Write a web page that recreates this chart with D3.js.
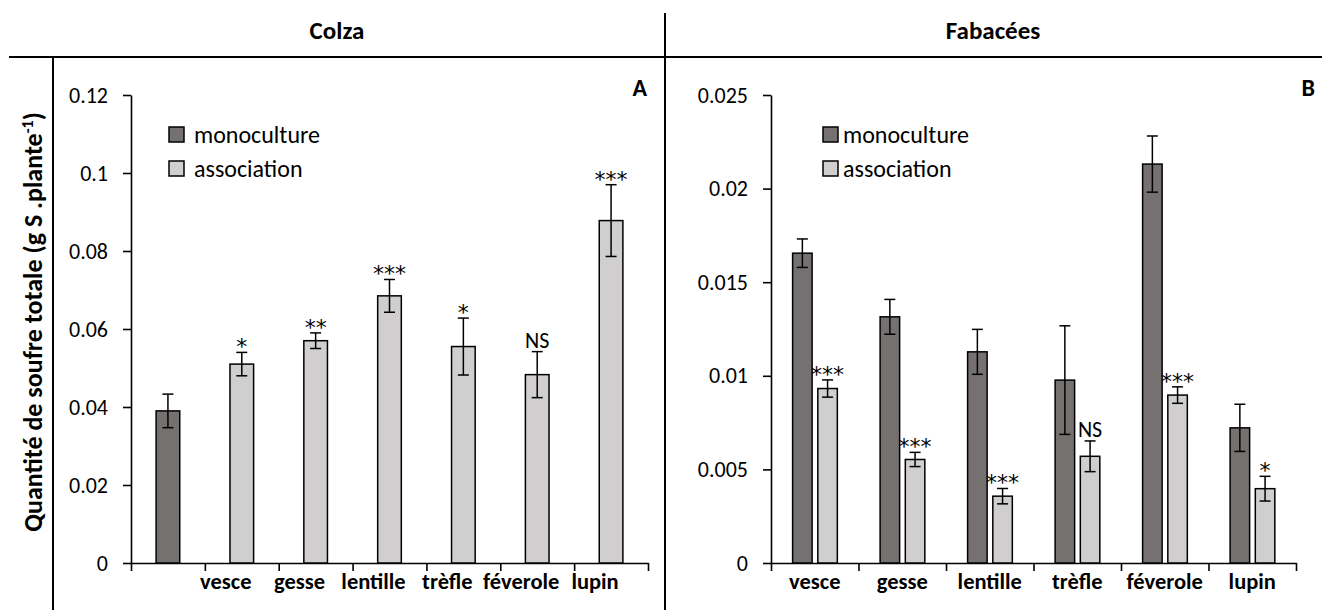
<!DOCTYPE html>
<html><head><meta charset="utf-8">
<script src="https://cdn.jsdelivr.net/npm/d3@7"></script>
<style>
html,body{margin:0;padding:0;background:#fff;}
svg{display:block;font-family:Calibri, Carlito, Lato, sans-serif;}
</style></head>
<body><svg id="chart" width="1322" height="610"></svg>
<script>
// ---------- data ----------
const categoriesA = ["", "vesce", "gesse", "lentille", "trèfle", "féverole", "lupin"];
const monoA      = [0.039, null, null, null, null, null, null];
const monoErrA   = [0.0043, null, null, null, null, null, null];
const assocA     = [null, 0.051, 0.057, 0.0685, 0.0555, 0.0483, 0.0878];
const assocErrA  = [null, 0.003, 0.002, 0.0042, 0.0073, 0.0059, 0.0092];
const sigA       = ["", "*", "**", "***", "*", "NS", "***"];
const ticksA     = [0, 0.02, 0.04, 0.06, 0.08, 0.1, 0.12];
const tickLabelsA = ["0", "0.02", "0.04", "0.06", "0.08", "0.1", "0.12"];

const categoriesB = ["vesce", "gesse", "lentille", "trèfle", "féverole", "lupin"];
const monoB      = [0.01655, 0.01315, 0.01128, 0.00977, 0.02131, 0.00722];
const monoErrB   = [0.00076, 0.00093, 0.0012, 0.0029, 0.0015, 0.00126];
const assocB     = [0.00932, 0.00553, 0.00357, 0.0057, 0.00897, 0.00397];
const assocErrB  = [0.00046, 0.00038, 0.00041, 0.00082, 0.00044, 0.00066];
const sigB       = ["***", "***", "***", "NS", "***", "*"];
const ticksB     = [0, 0.005, 0.01, 0.015, 0.02, 0.025];
const tickLabelsB = ["0", "0.005", "0.01", "0.015", "0.02", "0.025"];

const seriesNames = ["monoculture", "association"];
const panelTitles = ["Colza", "Fabacées"];
const panelLetters = ["A", "B"];
const yTitle = "Quantité de soufre totale (g S .plante";

// ---------- style ----------
const C_MONO = "#767171", C_ASSOC = "#d0cece";
const FONT = "Calibri, Carlito, Lato, sans-serif";
const svg = d3.select("#chart");
const Y0 = 563, Y1 = 95;

// frame lines
svg.append("line").attr("x1", 9).attr("x2", 1322).attr("y1", 57).attr("y2", 57).attr("stroke", "#000").attr("stroke-width", 2);
svg.append("line").attr("x1", 53).attr("x2", 53).attr("y1", 57).attr("y2", 610).attr("stroke", "#000").attr("stroke-width", 2);
svg.append("line").attr("x1", 665).attr("x2", 665).attr("y1", 13).attr("y2", 610).attr("stroke", "#000").attr("stroke-width", 2);

// headers
svg.append("text").attr("x", 337).attr("y", 39).attr("text-anchor", "middle").attr("font-weight", "bold").attr("font-size", 25).text(panelTitles[0]);
svg.append("text").attr("x", 993).attr("y", 39).attr("text-anchor", "middle").attr("font-weight", "bold").attr("font-size", 25).text(panelTitles[1]);
svg.append("text").attr("x", 647).attr("y", 96).attr("text-anchor", "end").attr("font-weight", "bold").attr("font-size", 24).text(panelLetters[0]);
svg.append("text").attr("x", 1315).attr("y", 96).attr("text-anchor", "end").attr("font-weight", "bold").attr("font-size", 24).text(panelLetters[1]);

// y title
const yt = svg.append("text").attr("transform", "translate(42,322) rotate(-90)").attr("text-anchor", "middle")
  .attr("font-weight", "bold").attr("font-size", 26);
yt.append("tspan").text(yTitle);
yt.append("tspan").attr("dy", -9).attr("font-size", 16).text("-1");
yt.append("tspan").attr("dy", 9).text(")");

function drawPanel(opts) {
  const g = svg.append("g");
  const y = d3.scaleLinear().domain([0, opts.max]).range([Y0, Y1]);
  const n = opts.categories.length;
  const xB = d3.scaleLinear().domain([0, n]).range([opts.x0, opts.x1]);
  const x = d3.scaleBand().domain(d3.range(n)).range([opts.x0, opts.x1]);

  // y axis
  const ya = g.append("g").attr("transform", `translate(${opts.x0},0)`)
    .call(d3.axisLeft(y).tickValues(opts.ticks).tickSize(8).tickSizeOuter(0).tickPadding(15)
      .tickFormat((d, i) => opts.tickLabels[i]));
  ya.selectAll("text").attr("font-size", 22).attr("fill", "#000").attr("font-family", FONT);
  ya.selectAll("line,path").attr("stroke", "#000").attr("stroke-width", 1.6);

  // x axis (ticks at band boundaries)
  const xa = g.append("g").attr("transform", `translate(0,${Y0})`)
    .call(d3.axisBottom(xB).tickValues(d3.range(n + 1)).tickSize(8).tickSizeOuter(0).tickFormat(""));
  xa.selectAll("line,path").attr("stroke", "#000").attr("stroke-width", 1.6);

  // category labels
  g.selectAll(".cat").data(opts.categories).join("text")
    .attr("x", (d, i) => x(i) + x.bandwidth() / 2 + opts.labelDx)
    .attr("y", 589).attr("text-anchor", "middle").attr("font-weight", "bold").attr("font-size", 22.5)
    .text(d => d);

  // bars
  const bars = [];
  for (let i = 0; i < n; i++) {
    const pair = [];
    if (opts.mono[i] != null) pair.push({s: 0, v: opts.mono[i], e: opts.monoErr[i]});
    if (opts.assoc[i] != null) pair.push({s: 1, v: opts.assoc[i], e: opts.assocErr[i], sig: opts.sig[i]});
    bars.push(pair);
  }
  const bw = x.bandwidth();
  bars.forEach((pair, i) => {
    let inner;
    if (pair.length === 2) {
      inner = d3.scaleBand().domain([0, 1]).range([0.247 * bw, 0.758 * bw]).paddingInner(0.226);
    } else {
      inner = d3.scaleBand().domain([pair[0].s]).range([0.34 * bw, 0.66 * bw]);
    }
    pair.forEach(b => {
      const bx = x(i) + inner(b.s);
      const w = inner.bandwidth();
      g.append("rect").attr("x", bx).attr("y", y(b.v)).attr("width", w).attr("height", Y0 - y(b.v))
        .attr("fill", b.s === 0 ? C_MONO : C_ASSOC).attr("stroke", "#000").attr("stroke-width", 1.5);
      const cx = bx + w / 2;
      const top = y(b.v + b.e), bot = y(b.v - b.e);
      g.append("line").attr("x1", cx).attr("x2", cx).attr("y1", top).attr("y2", bot).attr("stroke", "#000").attr("stroke-width", 1.5);
      g.append("line").attr("x1", cx - 5.5).attr("x2", cx + 5.5).attr("y1", top).attr("y2", top).attr("stroke", "#000").attr("stroke-width", 1.5);
      g.append("line").attr("x1", cx - 5.5).attr("x2", cx + 5.5).attr("y1", bot).attr("y2", bot).attr("stroke", "#000").attr("stroke-width", 1.5);
      if (b.sig) {
        const isNS = b.sig === "NS";
        g.append("text").attr("x", cx).attr("y", isNS ? top - 4 : top + 2)
          .attr("text-anchor", "middle").attr("font-size", 22)
          .attr("font-family", isNS ? FONT : "'DejaVu Sans', sans-serif")
          .text(b.sig);
      }
    });
  });

  // legend
  seriesNames.forEach((s, k) => {
    const ly = opts.legendY + k * 34;
    g.append("rect").attr("x", opts.legendX).attr("y", ly - 8).attr("width", 15).attr("height", 15)
      .attr("fill", k === 0 ? C_MONO : C_ASSOC).attr("stroke", "#000").attr("stroke-width", 1.5);
    g.append("text").attr("x", opts.legendX + 15 + opts.legendGap).attr("y", ly + 8).attr("font-size", 24).text(s);
  });
}

drawPanel({x0: 131, x1: 648, max: 0.12, ticks: ticksA, tickLabels: tickLabelsA, categories: categoriesA,
  mono: monoA, monoErr: monoErrA, assoc: assocA, assocErr: assocErrA, sig: sigA, labelDx: -16,
  legendX: 169, legendY: 135, legendGap: 10});
drawPanel({x0: 771, x1: 1296, max: 0.025, ticks: ticksB, tickLabels: tickLabelsB, categories: categoriesB,
  mono: monoB, monoErr: monoErrB, assoc: assocB, assocErr: assocErrB, sig: sigB, labelDx: 0,
  legendX: 823, legendY: 135, legendGap: 5});
</script></body></html>
